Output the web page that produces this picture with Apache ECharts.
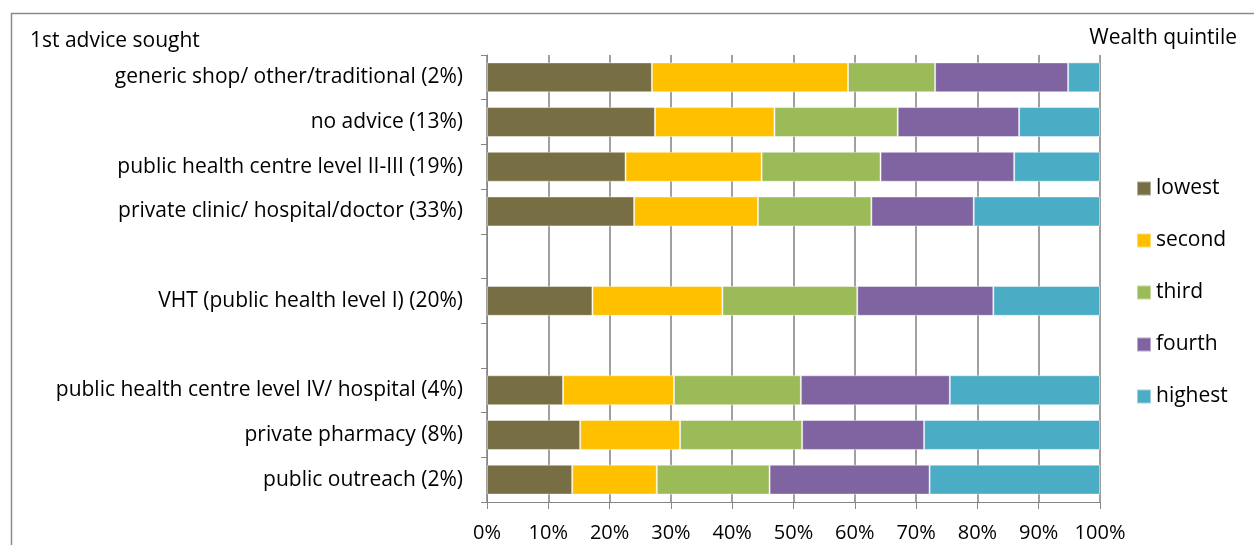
<!DOCTYPE html>
<html>
<head>
<meta charset="utf-8">
<title>1st advice sought by wealth quintile</title>
<script src="https://cdn.jsdelivr.net/npm/echarts@6/dist/echarts.min.js"></script>
<style>
  html, body { margin: 0; padding: 0; background: #ffffff; }
  #chart { width: 1254px; height: 545px; }
</style>
</head>
<body>
<div id="chart"></div>
<script>
// Sources of first advice (blank entries leave gaps between groups)
const categories = [
  'generic shop/ other/traditional (2%)',
  'no advice (13%)',
  'public health centre level II-III (19%)',
  'private clinic/ hospital/doctor (33%)',
  '',
  'VHT (public health level I) (20%)',
  ' ',
  'public health centre level IV/ hospital (4%)',
  'private pharmacy (8%)',
  'public outreach (2%)'
];

// Share (%) of each wealth quintile within each source
const lowest  = [26.9, 27.4, 22.6, 24.0, null, 17.2, null, 12.4, 15.2, 13.9];
const second  = [32.0, 19.5, 22.2, 20.2, null, 21.2, null, 18.1, 16.3, 13.8];
const third   = [14.2, 20.1, 19.4, 18.5, null, 22.0, null, 20.7, 19.9, 18.4];
const fourth  = [21.7, 19.8, 21.8, 16.7, null, 22.2, null, 24.3, 19.9, 26.1];
const highest = [ 5.2, 13.2, 14.0, 20.6, null, 17.4, null, 24.5, 28.7, 27.8];

const quintileNames = ['lowest', 'second', 'third', 'fourth', 'highest'];
const quintileColors = ['#776F43', '#FFC000', '#9BBB59', '#8064A2', '#4BACC6'];
const xTicks = [0, 10, 20, 30, 40, 50, 60, 70, 80, 90, 100];

const FONT = '"Open Sans"';
const FS = 21;
const chart = echarts.init(document.getElementById('chart'), null, { renderer: 'canvas' });

const seriesData = [lowest, second, third, fourth, highest];

chart.setOption({
  animation: false,
  backgroundColor: '#ffffff',
  textStyle: { fontFamily: FONT, color: '#000000' },
  grid: { left: 487, top: 55, width: 613, height: 447, containLabel: false },
  xAxis: {
    type: 'value',
    min: xTicks[0],
    max: xTicks[xTicks.length - 1],
    interval: 10,
    axisLine: { show: true, lineStyle: { color: '#868686', width: 1 } },
    axisTick: { show: true, length: 7, lineStyle: { color: '#868686', width: 1 } },
    axisLabel: { formatter: '{value}%', fontSize: 20, fontFamily: FONT, color: '#000', margin: 21 },
    splitLine: { show: true, lineStyle: { color: '#808080', width: 1.5 } }
  },
  yAxis: {
    type: 'category',
    inverse: true,
    data: categories,
    axisLine: { show: true, lineStyle: { color: '#868686', width: 1 } },
    axisTick: { show: true, length: 6, lineStyle: { color: '#868686', width: 1 } },
    axisLabel: { fontSize: FS, fontFamily: FONT, color: '#000', margin: 24 },
    splitLine: { show: false }
  },
  legend: {
    orient: 'vertical',
    left: 1131,
    top: 173,
    itemWidth: 14,
    itemHeight: 14,
    itemGap: 31,
    icon: 'rect',
    textStyle: { fontSize: FS, fontFamily: FONT, color: '#000', lineHeight: 21 },
    data: quintileNames
  },
  graphic: [
    {
      type: 'rect', left: 9, top: 11, z: -1,
      shape: { width: 1300, height: 600 },
      style: { fill: 'none', stroke: '#8a8a8a', lineWidth: 1.5 }
    },
    {
      type: 'text', left: 30, top: 31,
      style: { text: '1st advice sought', font: FS + 'px ' + FONT, fill: '#000' }
    },
    {
      type: 'text', right: 17, top: 28,
      style: { text: 'Wealth quintile', font: FS + 'px ' + FONT, fill: '#000', textAlign: 'right' }
    }
  ],
  series: quintileNames.map((name, i) => ({
    name: name,
    type: 'bar',
    stack: 'total',
    barCategoryGap: '33%',
    data: seriesData[i],
    itemStyle: { color: quintileColors[i], borderColor: 'rgba(255,255,255,0.45)', borderWidth: 1 }
  }))
});
</script>
</body>
</html>
